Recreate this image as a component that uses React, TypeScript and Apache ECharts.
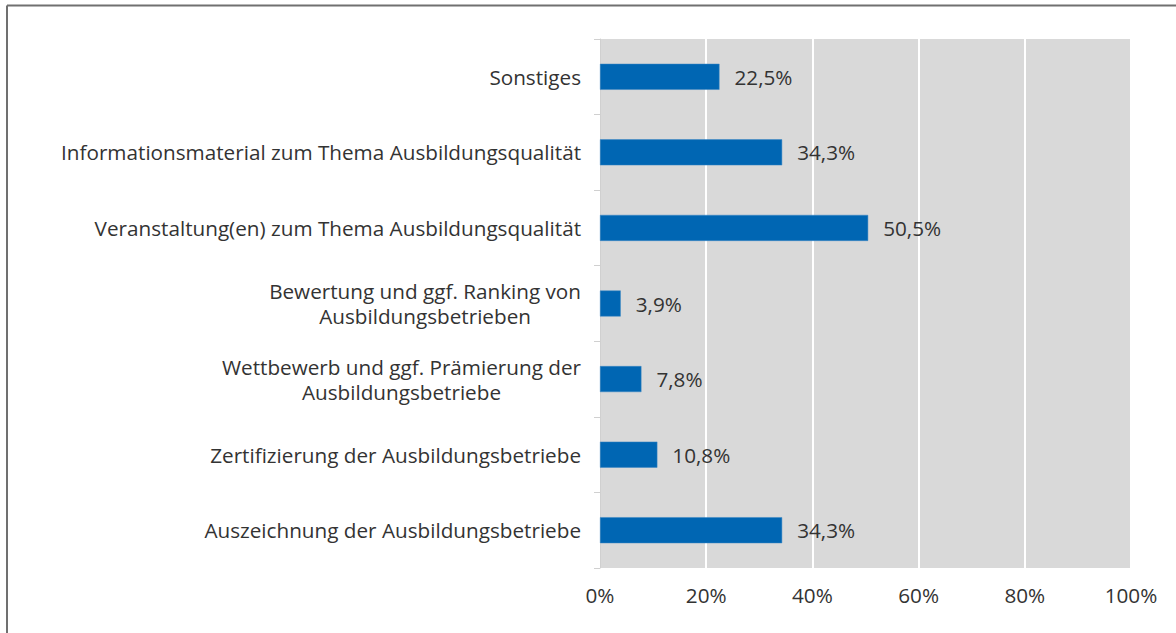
import React, { useEffect, useRef } from "react";
import * as echarts from "echarts";

const categories = [
  "Auszeichnung der Ausbildungsbetriebe",
  "Zertifizierung der Ausbildungsbetriebe",
  "Wettbewerb und ggf. Prämierung der\nAusbildungsbetriebe",
  "Bewertung und ggf. Ranking von\nAusbildungsbetrieben",
  "Veranstaltung(en) zum Thema Ausbildungsqualität",
  "Informationsmaterial zum Thema Ausbildungsqualität",
  "Sonstiges",
];
const values = [34.3, 10.8, 7.8, 3.9, 50.5, 34.3, 22.5];
const xTicks = [0, 20, 40, 60, 80, 100];

const FONT = "'Open Sans', 'Noto Sans', sans-serif";
const FS = 20.7;
const FW = 400;
const TXT = "#333333";

export default function App() {
  const ref = useRef<HTMLDivElement>(null);
  useEffect(() => {
    if (!ref.current) return;
    const chart = echarts.init(ref.current, undefined, { renderer: "svg" });
    chart.setOption({
      animation: false,
      backgroundColor: "#ffffff",
      textStyle: { fontFamily: FONT },
      graphic: [
        { type: "line", shape: { x1: 7, y1: 5.5, x2: 1176, y2: 5.5 }, style: { stroke: "#707070", lineWidth: 2 } },
        { type: "line", shape: { x1: 7, y1: 5.5, x2: 7, y2: 633 }, style: { stroke: "#707070", lineWidth: 2 } },
      ],
      grid: {
        left: 600,
        right: 45,
        top: 39,
        bottom: 65,
        show: true,
        backgroundColor: "#d9d9d9",
        borderWidth: 0,
      },
      xAxis: {
        type: "value",
        min: xTicks[0],
        max: xTicks[xTicks.length - 1],
        interval: 20,
        axisLine: { show: false },
        axisTick: { show: false },
        splitLine: { show: true, lineStyle: { color: "#ffffff", width: 2 } },
        axisLabel: {
          formatter: (v: number) => `${v}%`,
          color: TXT,
          fontSize: FS,
          fontWeight: FW,
          fontFamily: FONT,
          margin: 16,
        },
      },
      yAxis: {
        type: "category",
        data: categories,
        axisLine: { show: true, lineStyle: { color: "#d0d0d0", width: 1 } },
        axisTick: { show: true, length: 6, lineStyle: { color: "#d0d0d0" } },
        axisLabel: {
          color: TXT,
          fontSize: FS,
          fontWeight: FW,
          fontFamily: FONT,
          margin: 19,
          lineHeight: 25,
          formatter: (v: string) =>
            v.split("\n").map((l) => `{c|${l}}`).join("\n"),
          rich: {
            c: { align: "center", fontSize: FS, fontWeight: FW, fontFamily: FONT, color: TXT, lineHeight: 25 },
          },
        },
      },
      series: [
        {
          type: "bar",
          data: values,
          barWidth: 26,
          itemStyle: { color: "#0066b3", borderColor: "#3a86c4", borderWidth: 0.5 },
          label: {
            show: true,
            position: "right",
            distance: 15,
            color: TXT,
            fontSize: FS,
            fontWeight: FW,
            fontFamily: FONT,
            formatter: (p: any) => `${p.value.toFixed(1).replace(".", ",")}%`,
          },
        },
      ],
    });
    return () => chart.dispose();
  }, []);
  return (
    <div
      ref={ref}
      style={{ position: "fixed", left: 0, top: 0, width: 1176, height: 633 }}
    />
  );
}
